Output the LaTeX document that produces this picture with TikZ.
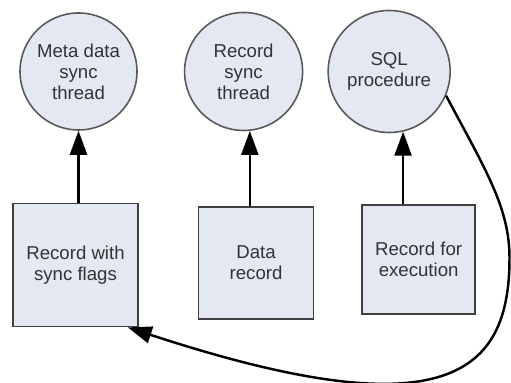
\documentclass[tikz,border=0pt]{standalone}
\usepackage{fontspec}
\setmainfont{Liberation Sans}
\usetikzlibrary{arrows.meta}
\usetikzlibrary{positioning}
\definecolor{paleblue}{RGB}{228,232,243}

\begin{document}
\begin{tikzpicture}[node distance=10 mm,
    >={Triangle[width=3.4mm,length=4.8mm]},
    thread/.style={circle,draw=black!65,line width=0.9pt,fill=paleblue,align=center,inner sep=0pt,text=black!80,font=\fontsize{10.6}{12}\selectfont},
    record/.style={rectangle,draw=black!75,line width=0.9pt,fill=paleblue,align=center,inner sep=0pt,text=black!80,font=\fontsize{10.6}{12}\selectfont},
    flow/.style={->,line width=1.4pt}]
    \useasboundingbox (0,0) rectangle (10.22,7.66);
    \node [thread,minimum size=23.4mm] (meta) at (1.57,6.23) {Meta data\\sync\\thread};
    \node [thread,minimum size=23.6mm] (recsync) [right=9.2mm of meta] {Record\\sync\\thread};
    \node [thread,minimum size=24.4mm] (sql) [right=4.8mm of recsync] {SQL\\procedure};
    \node [record,minimum width=25mm,minimum height=24.6mm] (flags) [below=14.4mm of meta,xshift=-0.6mm] {Record with\\sync flags};
    \node [record,minimum width=23mm,minimum height=22.4mm] (datarec) [below=15mm of recsync,xshift=2.5mm] {Data\\record};
    \node [record,minimum width=22.6mm,minimum height=21.8mm] (execrec) [below=14.2mm of sql,xshift=5.9mm] {Record for\\execution};
    \path[flow]
        (meta.-90 |- flags.north) edge (meta.-90)
        (recsync.-84 |- datarec.north) edge (recsync.-84)
        (sql.-77 |- execrec.north) edge (sql.-77);
    % back loop from the procedure to the flagged record
    \coordinate (bend) at (10.19,2.5);
    \draw[flow] (sql.-23) .. controls +(0.8,-1.5) and +(0,1.0) .. (bend)
        .. controls +(0,-2.3) and +(6.4,-2.1) .. (flags.-50);
\end{tikzpicture}
\end{document}
